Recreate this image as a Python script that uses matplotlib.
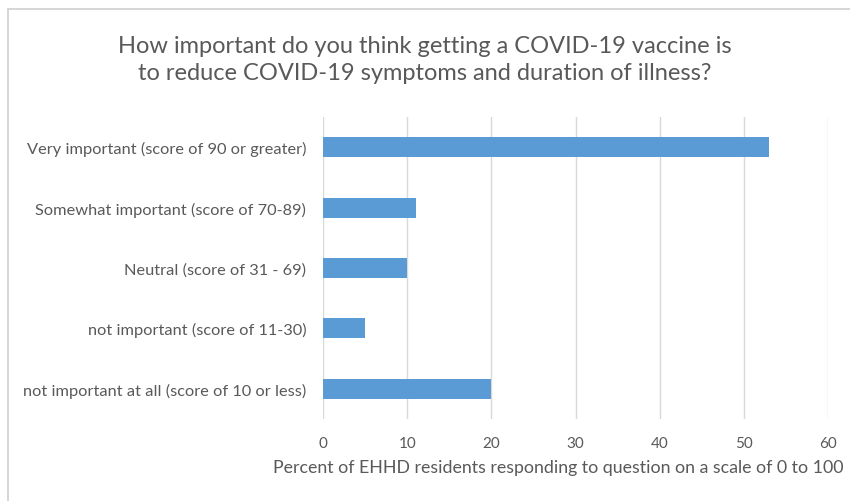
import matplotlib.pyplot as plt
from matplotlib.patches import Rectangle

categories = [
    'Very important (score of 90 or greater)',
    'Somewhat important (score of 70-89)',
    'Neutral (score of 31 - 69)',
    'not important (score of 11-30)',
    'not important at all (score of 10 or less)',
]
percent = [53, 11, 10, 5, 20]
xticks = [0, 10, 20, 30, 40, 50, 60]

plt.rcParams['font.family'] = ['Lato', 'DejaVu Sans']
grey = '#595959'

fig = plt.figure(figsize=(8.5, 5.02), dpi=100)
# thin frame around the chart area
fig.patches.append(Rectangle((8 / 850, -0.05), 1.0, 1 - 10 / 502 + 0.05,
                             transform=fig.transFigure, facecolor='none',
                             edgecolor='#d0d0d0', linewidth=1.2, zorder=-1))

ax = fig.add_axes([323 / 850, 1 - 420 / 502, 505 / 850, 302 / 502])
ypos = list(range(len(categories)))[::-1]
ax.barh(ypos, percent, height=0.33, color='#5b9bd5', zorder=3)

ax.set_xlim(0, 60)
ax.set_ylim(-0.5, 4.5)
ax.set_xticks(xticks)
ax.set_yticks(ypos)
ax.set_yticklabels(categories, fontsize=11.8, color=grey)
ax.tick_params(axis='x', labelsize=11, colors=grey, length=0, pad=12)
ax.tick_params(axis='y', length=0, pad=12)
ax.grid(axis='x', color='#d9d9d9', linewidth=1, zorder=0)
for s in ax.spines.values():
    s.set_visible(False)

ax.set_xlabel('Percent of EHHD residents responding to question on a scale of 0 to 100',
              fontsize=12.8, color=grey)
ax.xaxis.set_label_coords(0.465, -40 / 302)
fig.text(0.5, 1 - 60 / 502,
         'How important do you think getting a COVID-19 vaccine is\n'
         'to reduce COVID-19 symptoms and duration of illness?',
         ha='center', va='center', fontsize=17, color=grey, linespacing=1.3)

fig.savefig('out.png', dpi=100)
